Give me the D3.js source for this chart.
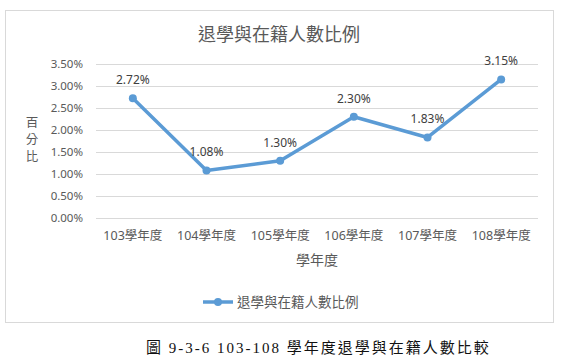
<!DOCTYPE html>
<html>
<head>
<meta charset="utf-8">
<script src="https://cdn.jsdelivr.net/npm/d3@7"></script>
<style>
  body { margin: 0; background: #fff; }
  text { font-family: "Noto Sans", "Noto Sans CJK TC", sans-serif; }
</style>
</head>
<body>
<svg id="chart" width="569" height="363"></svg>
<script>
let years = ["103學年度", "104學年度", "105學年度", "106學年度", "107學年度", "108學年度"];
let ratios = [2.72, 1.08, 1.30, 2.30, 1.83, 3.15];
let y_ticks = [0, 0.5, 1.0, 1.5, 2.0, 2.5, 3.0, 3.5];
let chart_title = "退學與在籍人數比例";
let x_title = "學年度";
let y_title = ["百", "分", "比"];
let caption = "圖 9-3-6 103-108 學年度退學與在籍人數比較";

let line_color = "#5B9BD5";
let text_color = "#595959";
let grid_color = "#d9d9d9";

let svg = d3.select("#chart");

// chart frame
svg.append("rect")
    .attr("x", 5.5).attr("y", 10.5)
    .attr("width", 548).attr("height", 312)
    .attr("fill", "none")
    .attr("stroke", grid_color);

let margin_left = 96, margin_top = 64;
let width = 538 - margin_left;
let height = 218 - margin_top;

let g = svg.append("g")
    .attr("transform", "translate(" + margin_left + "," + margin_top + ")");

let xScale = d3.scaleBand()
    .domain(years)
    .range([0, width]);

let yScale = d3.scaleLinear()
    .domain([0, 3.5])
    .range([height, 0]);

// gridlines + y labels
let y_axis = g.append("g")
    .call(d3.axisLeft(yScale).tickValues(y_ticks).tickSize(-width).tickPadding(13)
        .tickFormat(d => d.toFixed(2) + "%"));
y_axis.select(".domain").remove();
y_axis.selectAll(".tick line").attr("stroke", grid_color);
y_axis.selectAll(".tick text")
    .attr("fill", text_color)
    .style("font-size", "11.5px");

// x labels
let x_axis = g.append("g")
    .attr("transform", "translate(0," + height + ")")
    .call(d3.axisBottom(xScale).tickSize(0).tickPadding(13));
x_axis.select(".domain").remove();
x_axis.selectAll(".tick text")
    .attr("fill", text_color)
    .style("font-size", "12.5px");

// line
let line = d3.line()
    .x((d, i) => xScale(years[i]) + xScale.bandwidth() / 2)
    .y(d => yScale(d));

g.append("path")
    .datum(ratios)
    .attr("d", line)
    .attr("fill", "none")
    .attr("stroke", line_color)
    .attr("stroke-width", 3.5)
    .attr("stroke-linejoin", "round");

g.selectAll(".pt")
    .data(ratios)
    .enter()
    .append("circle")
    .attr("class", "pt")
    .attr("cx", (d, i) => xScale(years[i]) + xScale.bandwidth() / 2)
    .attr("cy", d => yScale(d))
    .attr("r", 4)
    .attr("fill", line_color);

g.selectAll(".lbl")
    .data(ratios)
    .enter()
    .append("text")
    .attr("class", "lbl")
    .attr("x", (d, i) => xScale(years[i]) + xScale.bandwidth() / 2)
    .attr("y", d => yScale(d) - 14)
    .attr("text-anchor", "middle")
    .attr("fill", "#404040")
    .style("font-size", "12px")
    .text(d => d.toFixed(2) + "%");

// titles
svg.append("text")
    .attr("x", 279).attr("y", 41)
    .attr("text-anchor", "middle")
    .attr("fill", text_color)
    .style("font-size", "18px")
    .text(chart_title);

svg.append("text")
    .attr("x", margin_left + width / 2).attr("y", 265)
    .attr("text-anchor", "middle")
    .attr("fill", text_color)
    .style("font-size", "14px")
    .text(x_title);

svg.selectAll(".ytitle")
    .data(y_title)
    .enter()
    .append("text")
    .attr("class", "ytitle")
    .attr("x", 32)
    .attr("y", (d, i) => 127 + i * 17)
    .attr("text-anchor", "middle")
    .attr("fill", text_color)
    .style("font-size", "12.5px")
    .text(d => d);

// legend
let legend = svg.append("g").attr("transform", "translate(203,302)");
legend.append("line")
    .attr("x1", 0).attr("x2", 30)
    .attr("stroke", line_color).attr("stroke-width", 3.5);
legend.append("circle")
    .attr("cx", 15).attr("r", 4).attr("fill", line_color);
legend.append("text")
    .attr("x", 34).attr("y", 5)
    .attr("fill", text_color)
    .style("font-size", "13.5px")
    .text(chart_title);

// caption under the chart
svg.append("text")
    .attr("x", 146).attr("y", 353)
    .attr("fill", "#111")
    .style("font-family", "'Liberation Serif', 'Noto Sans CJK TC', serif")
    .style("font-size", "15px")
    .style("font-weight", "normal")
    .style("letter-spacing", "2px")
    .text(caption);
</script>
</body>
</html>
